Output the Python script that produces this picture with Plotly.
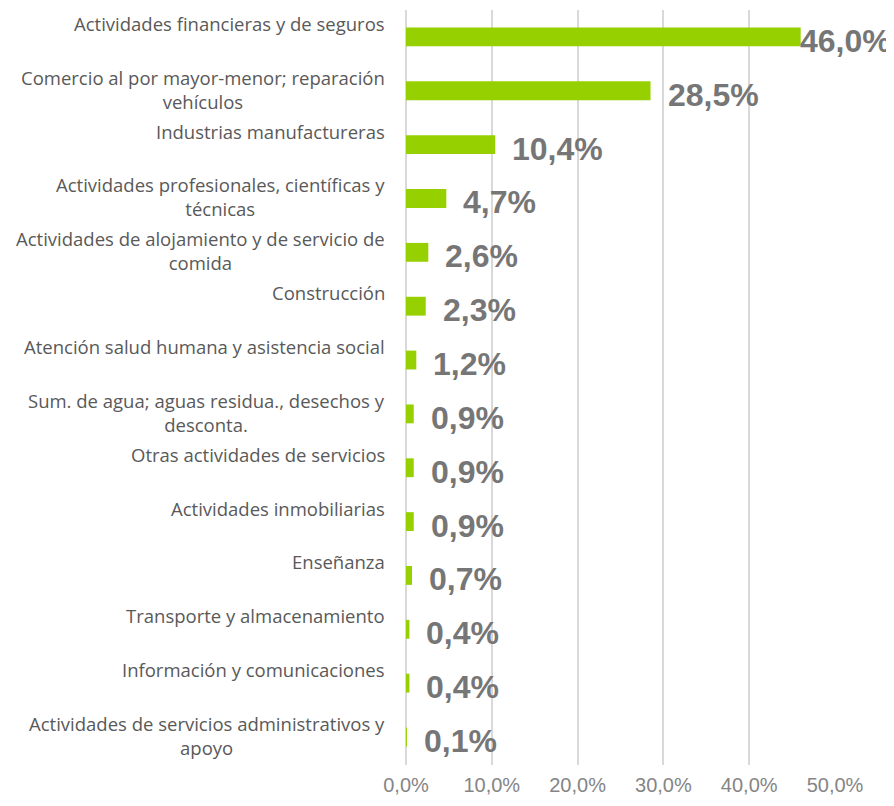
import plotly.graph_objects as go

categories = [
    "Actividades financieras y de seguros",
    "Comercio al por mayor-menor; reparación<br>vehículos",
    "Industrias manufactureras",
    "Actividades profesionales, científicas y<br>técnicas",
    "Actividades de alojamiento y de servicio de<br>comida",
    "Construcción",
    "Atención salud humana y asistencia social",
    "Sum. de agua; aguas residua., desechos y<br>desconta.",
    "Otras actividades de servicios",
    "Actividades inmobiliarias",
    "Enseñanza",
    "Transporte y almacenamiento",
    "Información y comunicaciones",
    "Actividades de servicios administrativos y<br>apoyo",
]
values = [46.0, 28.5, 10.4, 4.7, 2.6, 2.3, 1.2, 0.9, 0.9, 0.9, 0.7, 0.4, 0.4, 0.1]
tick_vals = [0, 10, 20, 30, 40, 50]
tick_text = ["0,0%", "10,0%", "20,0%", "30,0%", "40,0%", "50,0%"]

BAR = "#96D000"

fig = go.Figure(go.Bar(
    x=values, y=categories, orientation="h",
    marker=dict(color=BAR, line=dict(width=0)),
    hoverinfo="skip",
))

annotations = []
for c, v in zip(categories, values):
    annotations.append(dict(
        x=0, xref="paper", xanchor="right", xshift=-19,
        y=c, yref="y", yanchor="top", yshift=28,
        text=c, showarrow=False, align="center",
        font=dict(family="Open Sans", size=18.5, color="#595959"),
    ))
    lbl = f"{v:.1f}".replace(".", ",") + "%"
    annotations.append(dict(
        x=v, xref="x", xanchor="left", xshift=(-3 if v > 40 else 15),
        y=c, yref="y", yanchor="middle", yshift=-4,
        text=f"<b>{lbl}</b>", showarrow=False,
        font=dict(family="Liberation Sans, Arial", size=32, color="#767676"),
    ))

# the page body adds an 8px offset; size the figure to fit the window
fig.update_layout(
    width=886, height=798,
    margin=dict(l=398, r=59, t=2, b=41),
    paper_bgcolor="white", plot_bgcolor="white",
    bargap=0.65,
    showlegend=False,
    annotations=annotations,
    xaxis=dict(
        range=[0, 50], tickvals=tick_vals, ticktext=tick_text,
        showgrid=True, gridcolor="#d9d9d9", gridwidth=1.5,
        zeroline=True, zerolinecolor="#d9d9d9", zerolinewidth=1.5,
        showline=False, ticks="", ticklabelstandoff=6,
        tickfont=dict(family="Liberation Sans, Arial", size=20, color="#858585"),
    ),
    yaxis=dict(
        autorange="reversed", showticklabels=False, showgrid=False,
        zeroline=False, showline=False, ticks="",
    ),
)

fig.write_html("out.html")
